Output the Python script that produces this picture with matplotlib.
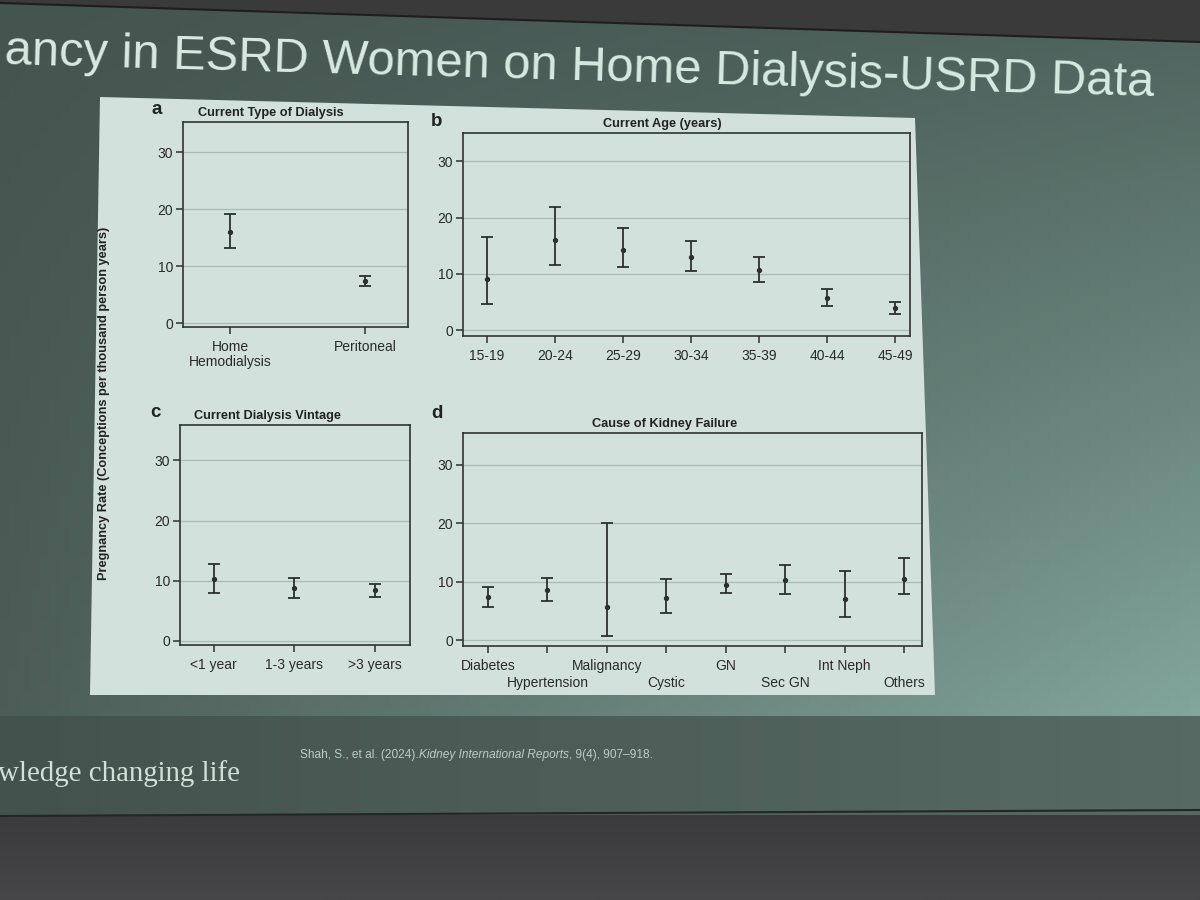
import numpy as np
import matplotlib
matplotlib.use("Agg")
import matplotlib.pyplot as plt
from matplotlib.patches import Polygon

plt.rcParams['font.family'] = ['Liberation Sans', 'DejaVu Sans']

# ---------------- data ----------------
type_labels = ["Home\nHemodialysis", "Peritoneal"]
type_rate = [16.0, 7.4]
type_lo = [13.2, 6.5]
type_hi = [19.1, 8.2]

age_labels = ["15-19", "20-24", "25-29", "30-34", "35-39", "40-44", "45-49"]
age_rate = [9.1, 16.1, 14.3, 13.0, 10.7, 5.8, 4.0]
age_lo = [4.6, 11.6, 11.2, 10.6, 8.6, 4.4, 2.9]
age_hi = [16.6, 21.8, 18.2, 15.8, 13.0, 7.3, 5.0]

vintage_labels = ["<1 year", "1-3 years", ">3 years"]
vintage_rate = [10.2, 8.8, 8.4]
vintage_lo = [8.0, 7.2, 7.3]
vintage_hi = [12.8, 10.4, 9.5]

cause_labels = ["Diabetes", "Hypertension", "Malignancy", "Cystic", "GN",
                "Sec GN", "Int Neph", "Others"]
cause_rate = [7.4, 8.5, 5.7, 7.2, 9.5, 10.2, 7.1, 10.45]
cause_lo = [5.6, 6.7, 0.7, 4.7, 8.0, 7.9, 3.95, 7.85]
cause_hi = [9.0, 10.6, 20.1, 10.5, 11.3, 12.8, 11.8, 14.0]

y_ticks = [0, 10, 20, 30]

slide_title = "ancy in ESRD Women on Home Dialysis-USRD Data"
ylabel = "Pregnancy Rate (Conceptions per thousand person years)"

# ---------------- figure ----------------
W, H = 1200, 900
fig = plt.figure(figsize=(12, 9), dpi=100, facecolor="#3c3c3d")

def fx(px):
    return px / W

def fy(py):
    return 1 - py / H

bg = fig.add_axes([0, 0, 1, 1], zorder=-10)
bg.set_xlim(0, W)
bg.set_ylim(H, 0)
bg.axis("off")

# bottom dark strip gradient
yy = np.linspace(0, 1, 50)[:, None]
bot = np.ones((50, 2, 3))
bot[:] = (np.array([58, 58, 60]) + yy[..., None] * np.array([12, 12, 12])) / 255
bg.imshow(bot, extent=(0, W, 900, 805), aspect="auto", zorder=0)

# top dark strip
bg.add_patch(Polygon([(0, 0), (W, 0), (W, 45), (0, 6)], closed=True,
                     facecolor="#3a3a3a", edgecolor="none", zorder=1))

# main slide gradient (bilinear)
nx, ny = 120, 90
tx = np.linspace(0, 1, nx)[None, :, None]
ty = np.linspace(0, 1, ny)[:, None, None]
TL = np.array([68, 84, 79]); TR = np.array([78, 98, 92])
BL = np.array([76, 93, 87]); BR = np.array([130, 166, 156])
img = (TL * (1 - tx) * (1 - ty) + TR * tx * (1 - ty)
       + BL * (1 - tx) * ty + BR * tx * ty) / 255
im = bg.imshow(img, extent=(0, W, 717, 3), aspect="auto", zorder=2)
slide_poly = Polygon([(0, 3), (W, 42), (W, 717), (0, 717)], closed=True,
                     facecolor="none", edgecolor="none", transform=bg.transData)
bg.add_patch(slide_poly)
im.set_clip_path(slide_poly)
bg.plot([0, W], [3, 42], color="#1e1e1e", lw=1.5, zorder=3)

# footer band
fb = np.ones((2, 60, 3))
fb[:] = (np.array([68, 82, 77]) + np.linspace(0, 1, 60)[:, None]
         * np.array([18, 24, 22])) / 255
bg.imshow(fb, extent=(0, W, 815, 716), aspect="auto", zorder=2)
bg.plot([0, W], [816, 810], color="#252525", lw=1.5, zorder=3)

# light panel holding the figure
bg.add_patch(Polygon([(100, 97), (915, 118), (935, 695), (90, 695)], closed=True,
                     facecolor="#d2e1db", edgecolor="none", zorder=4))

# slide title & footer
fig.text(fx(579), fy(80), slide_title, fontsize=35.2, color="#d8ebe3",
         ha="center", va="baseline", rotation=-1.6, rotation_mode="anchor")
fig.text(fx(-2), fy(774), "wledge changing life", fontsize=20.8,
         family="Liberation Serif", color="#cfe1d9", ha="left", va="center")

cit_y = fy(755)
t1 = fig.text(fx(300), cit_y, "Shah, S., et al. (2024).", fontsize=8.6,
              color="#b9cdc6", ha="left", va="center")
fig.canvas.draw()
r = fig.canvas.get_renderer()
x1 = t1.get_window_extent(r).x1
t2 = fig.text(x1 / W, cit_y, "Kidney International Reports", fontsize=8.6,
              style="italic", color="#b9cdc6", ha="left", va="center")
x2 = t2.get_window_extent(r).x1
fig.text(x2 / W, cit_y, ", 9(4), 907\u2013918.", fontsize=8.6,
         color="#b9cdc6", ha="left", va="center")

# ---------------- panels ----------------
ink = "#2b302e"
grid_c = "#a9bbb4"

def panel(rect_px, labels, rate, lo, hi, xlim, ylim, title, title_x, letter_px,
          two_rows=False):
    l, r_, t, b = rect_px
    ax = fig.add_axes([fx(l), fy(b), fx(r_) - fx(l), fy(t) - fy(b)])
    ax.set_facecolor("none")
    x = np.arange(len(labels))
    rate = np.asarray(rate); lo = np.asarray(lo); hi = np.asarray(hi)
    ax.errorbar(x, rate, yerr=[rate - lo, hi - rate], fmt="o", ms=2.8,
                color=ink, ecolor=ink, elinewidth=1.3, capsize=4.5,
                capthick=1.3, zorder=3)
    ax.set_xlim(*xlim)
    ax.set_ylim(*ylim)
    ax.set_yticks(y_ticks)
    if two_rows:
        ax.set_xticks(x[0::2])
        ax.set_xticklabels(labels[0::2], fontsize=10, color="#2a2a2a")
        ax.set_xticks(x[1::2], minor=True)
        ax.set_xticklabels(labels[1::2], minor=True, fontsize=10, color="#2a2a2a")
        ax.tick_params(axis="x", which="minor", direction="out", length=5,
                       width=1.1, color=ink, pad=16.5)
    else:
        ax.set_xticks(x)
        ax.set_xticklabels(labels, fontsize=10, color="#2a2a2a", linespacing=1.1)
    ax.tick_params(axis="y", labelsize=10, labelcolor="#2a2a2a", pad=2)
    ax.tick_params(axis="both", which="major", direction="out", length=5,
                   width=1.1, color=ink)
    ax.tick_params(axis="x", which="major", pad=4.5)
    ax.yaxis.grid(True, color=grid_c, lw=0.9)
    ax.set_axisbelow(True)
    for s in ax.spines.values():
        s.set_color("#2e3331")
        s.set_linewidth(1.2)
    ax.text(title_x, 1.015, title, transform=ax.transAxes, ha="center",
            va="bottom", fontsize=9.2, fontweight="bold", color="#222")
    fig.text(fx(letter_px[0]), fy(letter_px[1]), letter_px[2], fontsize=13.5,
             fontweight="bold", color="#222", ha="center", va="center")
    return ax

panel((183, 408, 122, 327), type_labels, type_rate, type_lo, type_hi,
      (-0.35, 1.32), (-0.7, 35.3), "Current Type of Dialysis", 0.39,
      (157, 110, "a"))
panel((463, 910, 133, 336), age_labels, age_rate, age_lo, age_hi,
      (-0.35, 6.22), (-1.0, 35.0), "Current Age (years)", 0.445,
      (437, 121, "b"))
panel((180, 410, 425, 645), vintage_labels, vintage_rate, vintage_lo, vintage_hi,
      (-0.42, 2.44), (-0.7, 35.9), "Current Dialysis Vintage", 0.38,
      (155, 412, "c"))
panel((463, 922, 433, 646), cause_labels, cause_rate, cause_lo, cause_hi,
      (-0.42, 7.3), (-1.0, 35.4), "Cause of Kidney Failure", 0.44,
      (437, 414, "d"), two_rows=True)

fig.text(fx(104), fy(403), ylabel, rotation=90, fontsize=9.2,
         fontweight="bold", color="#222", ha="center", va="center")

fig.savefig("out.png", dpi=100, facecolor=fig.get_facecolor())
